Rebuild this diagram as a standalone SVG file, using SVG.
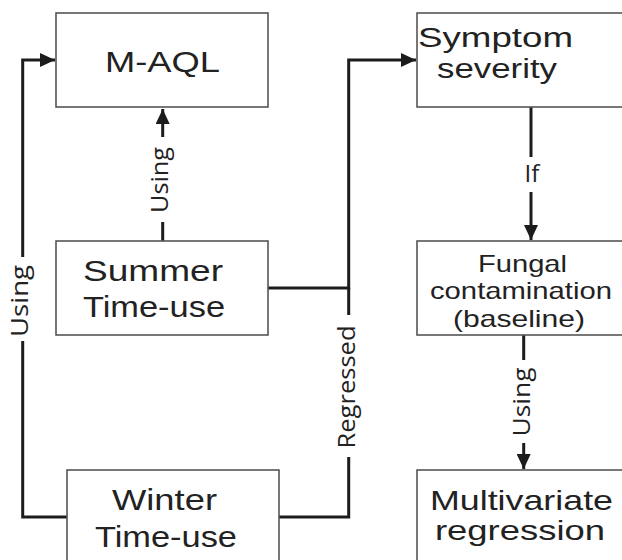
<svg xmlns="http://www.w3.org/2000/svg" width="622" height="560" viewBox="0 0 622 560">
  <style>
    .box { fill: #ffffff; stroke: #555555; stroke-width: 1.6; }
    .lbl { font-family: "Liberation Sans", Arial, sans-serif; fill: #222222; }
    .edge { fill: none; stroke: #1c1c1c; stroke-width: 3; }
    .elbl { font-family: "Open Sans", "Noto Sans", sans-serif; font-size: 24px; fill: #222222; }
  </style>
  <defs>
    <marker id="arrow" markerUnits="userSpaceOnUse" markerWidth="16" markerHeight="14" refX="15" refY="7" orient="auto">
      <path d="M0,0 L15,7 L0,14 z" fill="#1c1c1c"/>
    </marker>
  </defs>
  <rect width="622" height="560" fill="#ffffff"/>

  <!-- connectors -->
  <g id="connectors">
    <path class="edge" d="M162.7,241 V222 M162.7,137 V109" marker-end="url(#arrow)"/>
    <path class="edge" d="M67,517 H22.7 V341 M22.7,257 V60 H55" marker-end="url(#arrow)"/>
    <path class="edge" d="M268,288 H348.7 V60 H416" marker-end="url(#arrow)"/>
    <path class="edge" d="M279,517 H348.7 V457 M348.7,315 V288"/>
    <path class="edge" d="M531,107 V157 M531,192 V240" marker-end="url(#arrow)"/>
    <path class="edge" d="M523.7,335 V360 M523.7,443 V469" marker-end="url(#arrow)"/>
    <text class="elbl" transform="translate(168,180) rotate(-90)" text-anchor="middle" textLength="66" lengthAdjust="spacingAndGlyphs">Using</text>
    <text class="elbl" transform="translate(28,301) rotate(-90)" text-anchor="middle" textLength="72" lengthAdjust="spacingAndGlyphs">Using</text>
    <text class="elbl" transform="translate(354.5,387) rotate(-90)" text-anchor="middle" textLength="123" lengthAdjust="spacingAndGlyphs">Regressed</text>
    <text class="elbl" transform="translate(529.5,402) rotate(-90)" text-anchor="middle" textLength="69" lengthAdjust="spacingAndGlyphs">Using</text>
    <text class="elbl" x="532" y="182" text-anchor="middle" font-size="25">If</text>
  </g>

  <g id="maql">
    <rect class="box" x="56" y="13" width="212" height="94"/>
    <text class="lbl" x="105" y="72" font-size="30" textLength="115" lengthAdjust="spacingAndGlyphs">M-AQL</text>
  </g>

  <g id="symptom">
    <rect class="box" x="417" y="13" width="230" height="94"/>
    <text class="lbl" x="418" y="47" font-size="27" textLength="155" lengthAdjust="spacingAndGlyphs">Symptom</text>
    <text class="lbl" x="437" y="78" font-size="27" textLength="120" lengthAdjust="spacingAndGlyphs">severity</text>
  </g>

  <g id="summer">
    <rect class="box" x="56" y="241" width="212" height="94"/>
    <text class="lbl" x="83" y="281" font-size="29" textLength="140" lengthAdjust="spacingAndGlyphs">Summer</text>
    <text class="lbl" x="83" y="317" font-size="29" textLength="142" lengthAdjust="spacingAndGlyphs">Time-use</text>
  </g>

  <g id="fungal">
    <rect class="box" x="417" y="241" width="230" height="94"/>
    <text class="lbl" x="478" y="272" font-size="24" textLength="89" lengthAdjust="spacingAndGlyphs">Fungal</text>
    <text class="lbl" x="430" y="299" font-size="24" textLength="182" lengthAdjust="spacingAndGlyphs">contamination</text>
    <text class="lbl" x="453" y="327" font-size="24" textLength="132" lengthAdjust="spacingAndGlyphs">(baseline)</text>
  </g>

  <g id="winter">
    <rect class="box" x="67" y="470" width="212" height="110"/>
    <text class="lbl" x="112" y="510" font-size="30" textLength="105" lengthAdjust="spacingAndGlyphs">Winter</text>
    <text class="lbl" x="95" y="547" font-size="30" textLength="142" lengthAdjust="spacingAndGlyphs">Time-use</text>
  </g>

  <g id="multivariate">
    <rect class="box" x="417" y="470" width="230" height="110"/>
    <text class="lbl" x="430" y="510" font-size="28" textLength="183" lengthAdjust="spacingAndGlyphs">Multivariate</text>
    <text class="lbl" x="435" y="540" font-size="28" textLength="170" lengthAdjust="spacingAndGlyphs">regression</text>
  </g>
</svg>
